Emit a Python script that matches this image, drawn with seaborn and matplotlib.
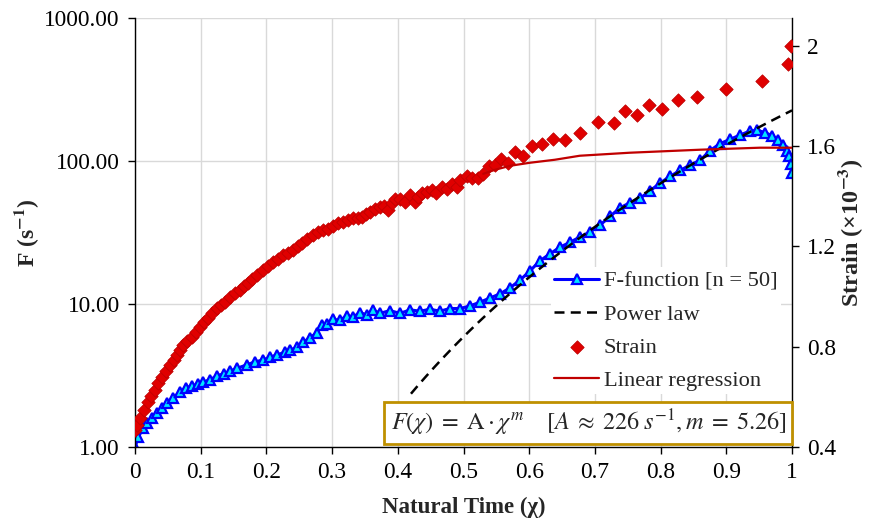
import numpy as np
import seaborn as sns
import matplotlib.pyplot as plt
from matplotlib.ticker import FixedLocator, FormatStrFormatter, NullLocator

# ------------------- DATA -------------------

# F-function [n = 50] (left axis, log scale)
chi_f = [0.000, 0.005, 0.012, 0.018, 0.026, 0.033, 0.041, 0.049, 0.058, 0.068,
         0.078, 0.087, 0.096, 0.104, 0.114, 0.125, 0.135, 0.145, 0.155, 0.170,
         0.183, 0.195, 0.205, 0.216, 0.228, 0.236, 0.247, 0.256, 0.266, 0.277,
         0.285, 0.292, 0.301, 0.312, 0.323, 0.332, 0.342, 0.353, 0.362, 0.373,
         0.388, 0.403, 0.419, 0.434, 0.449, 0.464, 0.479, 0.495, 0.510, 0.525,
         0.540, 0.556, 0.571, 0.586, 0.601, 0.616, 0.632, 0.647, 0.662, 0.677,
         0.693, 0.708, 0.723, 0.738, 0.753, 0.769, 0.784, 0.799, 0.814, 0.830,
         0.845, 0.860, 0.875, 0.890, 0.906, 0.921, 0.936, 0.947, 0.959, 0.970,
         0.979, 0.986, 0.992, 0.995, 0.998, 1.000]
f_vals = [1.00, 1.17, 1.35, 1.47, 1.60, 1.73, 1.87, 2.03, 2.20, 2.42,
          2.60, 2.68, 2.75, 2.85, 2.95, 3.15, 3.25, 3.40, 3.55, 3.75,
          3.95, 4.05, 4.25, 4.40, 4.60, 4.75, 5.00, 5.40, 5.80, 6.30,
          7.10, 7.30, 7.80, 7.70, 8.30, 8.10, 8.70, 8.40, 9.10, 8.60,
          9.00, 8.60, 9.10, 8.90, 9.20, 8.90, 9.30, 9.30, 9.70, 10.3,
          11.0, 11.8, 13.0, 14.7, 17.0, 20.0, 22.5, 25.0, 27.0, 29.4,
          32.0, 35.7, 41.0, 47.0, 51.0, 55.0, 62.0, 70.0, 78.0, 86.0,
          94.0, 101.0, 118.0, 132.0, 142.0, 152.0, 162.0, 164.0, 158.0, 150.0,
          140.0, 130.0, 118.0, 108.0, 95.0, 82.0]

# Strain (right axis, x10^-3)
chi_s = [0.000, 0.003, 0.008, 0.014, 0.020, 0.024, 0.030, 0.035, 0.041, 0.047,
         0.053, 0.059, 0.064, 0.068, 0.073, 0.079, 0.087, 0.093, 0.099, 0.105,
         0.111, 0.117, 0.125, 0.131, 0.137, 0.145, 0.152, 0.160, 0.166, 0.172,
         0.178, 0.186, 0.195, 0.202, 0.210, 0.218, 0.225, 0.233, 0.240, 0.248,
         0.254, 0.262, 0.271, 0.279, 0.286, 0.294, 0.301, 0.309, 0.317, 0.324,
         0.332, 0.339, 0.346, 0.352, 0.358, 0.365, 0.373, 0.379, 0.385, 0.391,
         0.396, 0.403, 0.411, 0.419, 0.426, 0.431, 0.437, 0.444, 0.452, 0.458,
         0.467, 0.475, 0.482, 0.490, 0.495, 0.505, 0.513, 0.522, 0.530, 0.539,
         0.548, 0.557, 0.568, 0.578, 0.591, 0.604, 0.619, 0.636, 0.654, 0.677,
         0.705, 0.729, 0.746, 0.764, 0.782, 0.802, 0.826, 0.855, 0.900, 0.955,
         0.994, 0.998]
strain = [0.468, 0.488, 0.516, 0.548, 0.580, 0.604, 0.627, 0.655, 0.679, 0.703,
          0.727, 0.747, 0.767, 0.787, 0.807, 0.823, 0.839, 0.859, 0.879, 0.899,
          0.915, 0.935, 0.955, 0.967, 0.979, 0.999, 1.014, 1.026, 1.042, 1.054,
          1.070, 1.086, 1.106, 1.122, 1.138, 1.150, 1.166, 1.174, 1.186, 1.202,
          1.214, 1.230, 1.246, 1.258, 1.266, 1.270, 1.282, 1.294, 1.298, 1.306,
          1.314, 1.314, 1.318, 1.330, 1.338, 1.350, 1.358, 1.362, 1.346, 1.374,
          1.390, 1.390, 1.378, 1.405, 1.378, 1.398, 1.413, 1.417, 1.425, 1.413,
          1.437, 1.429, 1.449, 1.437, 1.465, 1.481, 1.473, 1.473, 1.489, 1.521,
          1.525, 1.549, 1.533, 1.577, 1.561, 1.601, 1.609, 1.629, 1.625, 1.653,
          1.697, 1.693, 1.741, 1.725, 1.765, 1.749, 1.784, 1.796, 1.828, 1.860,
          1.928, 2.000]

# Linear regression (right axis)
chi_reg = [0.530, 0.548, 0.571, 0.601, 0.639, 0.677, 0.753, 0.860, 0.951, 1.000]
strain_reg = [1.489, 1.505, 1.521, 1.533, 1.545, 1.561, 1.573, 1.585, 1.593, 1.593]

# Power law fit F = A * chi^m
A_fit = 226
m_fit = 5.26
chi_pow = np.linspace(0.42, 1.0, 80)
f_pow = A_fit * chi_pow ** m_fit

x_ticks = [0, 0.1, 0.2, 0.3, 0.4, 0.5, 0.6, 0.7, 0.8, 0.9, 1]
f_ticks = [1, 10, 100, 1000]
s_ticks = [0.4, 0.8, 1.2, 1.6, 2.0]

# ------------------- PLOT -------------------

sns.set_theme(style="white")
plt.rcParams['font.family'] = ['Liberation Serif', 'DejaVu Serif']
plt.rcParams['mathtext.fontset'] = 'stix'

fig = plt.figure(figsize=(8.75, 5.22), dpi=100)
ax = fig.add_axes([0.1543, 0.1437, 0.7509, 0.8218])
ax2 = ax.twinx()

sns.lineplot(x=chi_f, y=f_vals, ax=ax, estimator=None, sort=False,
             color='#0000FF', lw=2.2, marker='^', markersize=7.5,
             markerfacecolor='#00E5FF', markeredgecolor='#0000FF',
             markeredgewidth=1.6, label='F-function [n = 50]')
sns.lineplot(x=chi_pow, y=f_pow, ax=ax, estimator=None, sort=False,
             color='black', lw=1.8, linestyle=(0, (4, 2.5)), label='Power law')

sns.scatterplot(x=chi_s, y=strain, ax=ax2, marker='D', s=46,
                color='#E00000', edgecolor='#C00000', linewidth=0.6,
                label='Strain', zorder=3)
sns.lineplot(x=chi_reg, y=strain_reg, ax=ax2, estimator=None, sort=False,
             color='#C00000', lw=1.6, label='Linear regression', zorder=4)

# axes
ax.set_yscale('log')
ax.set_xlim(0, 1)
ax.set_ylim(1, 1000)
ax2.set_ylim(0.4, 2.11)

ax.xaxis.set_major_locator(FixedLocator(x_ticks))
ax.set_xticklabels([f"{t:g}" for t in x_ticks])
ax.yaxis.set_major_locator(FixedLocator(f_ticks))
ax.yaxis.set_minor_locator(NullLocator())
ax.yaxis.set_major_formatter(FormatStrFormatter('%.2f'))
ax2.yaxis.set_major_locator(FixedLocator(s_ticks))
ax2.set_yticklabels([f"{t:g}" for t in s_ticks])

ax.grid(True, color='#D9D9D9', lw=1.0)
ax.set_axisbelow(True)

for a in (ax, ax2):
    a.spines['top'].set_visible(False)
    for sp in ('left', 'right', 'bottom'):
        a.spines[sp].set_color('black')
        a.spines[sp].set_linewidth(1.0)
ax.spines['right'].set_visible(False)
ax2.spines['left'].set_visible(False)
ax2.spines['bottom'].set_visible(False)

ax.tick_params(axis='both', direction='out', length=5, width=1, colors='black',
               labelsize=16.8, left=True, bottom=True, pad=6)
ax2.tick_params(axis='y', direction='out', length=5, width=1, colors='black',
                labelsize=16.8, right=True, pad=6)

ax.set_xlabel('Natural Time (χ)', fontsize=16.5, fontweight='bold', labelpad=10)
ax.set_ylabel(r'F (s$^{\mathbf{-1}}$)', fontsize=17, fontweight='bold', labelpad=2)
ax2.set_ylabel(r'Strain (×10$^{\mathbf{-3}}$)', fontsize=17.5, fontweight='bold', labelpad=0)

# legend (combined)
h1, l1 = ax.get_legend_handles_labels()
h2, l2 = ax2.get_legend_handles_labels()
if ax.get_legend():
    ax.get_legend().remove()
if ax2.get_legend():
    ax2.get_legend().remove()
ax2.legend(h1 + h2, l1 + l2, loc='upper right', bbox_to_anchor=(1.0, 0.445),
           fontsize=16.2, frameon=True, facecolor='white', edgecolor='none',
           framealpha=1, fancybox=False, handlelength=2.0, handletextpad=0.2,
           labelspacing=0.55, borderpad=0.15)

# annotation box
ax2.text(0.690, 0.056,
         r'$F(\chi)\;=\;\mathrm{A}\cdot\chi^{m}\quad\;[A\;\approx\;226\;s^{-1},m\;=\;5.26]$',
         transform=ax.transAxes, ha='center', va='center', fontsize=17.5, zorder=6,
         bbox=dict(boxstyle='square,pad=0.25', facecolor='white', edgecolor='#BF9000', lw=2))

fig.savefig('out.png', dpi=100)
